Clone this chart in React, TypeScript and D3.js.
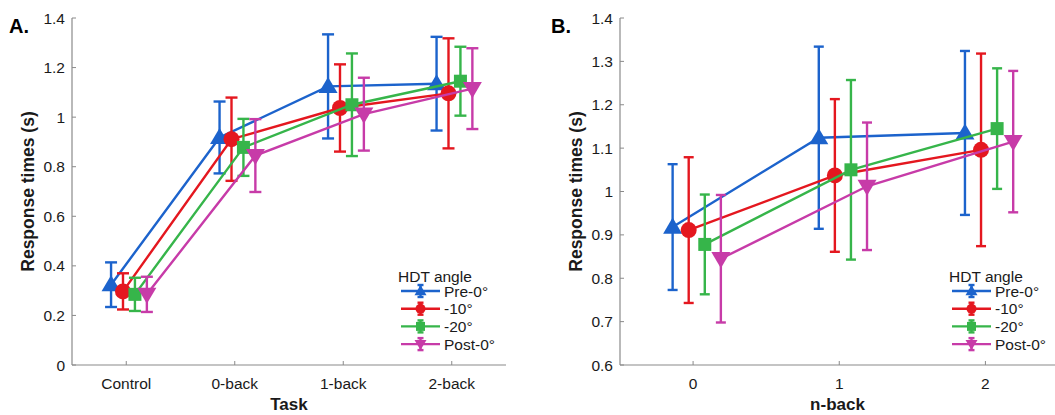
import * as d3 from 'd3';

const seriesNames = ['Pre-0°', '-10°', '-20°', 'Post-0°'];
const seriesColors = ['#1c63cc', '#e4171f', '#36b54a', '#c73ba8'];
const seriesShapes = ['up', 'circle', 'square', 'down'];
const offsets = [-0.14, -0.03, 0.08, 0.19];

const taskLabels = ['Control', '0-back', '1-back', '2-back'];
const nbackLabels = ['0', '1', '2'];

// means per series across Control, 0-back, 1-back, 2-back
const preMean = [0.324, 0.918, 1.124, 1.135];
const m10Mean = [0.297, 0.911, 1.037, 1.096];
const m20Mean = [0.285, 0.878, 1.050, 1.145];
const postMean = [0.285, 0.845, 1.012, 1.115];

const preErr = [0.09, 0.145, 0.21, 0.189];
const m10Err = [0.073, 0.168, 0.176, 0.222];
const m20Err = [0.067, 0.115, 0.207, 0.139];
const postErr = [0.071, 0.147, 0.147, 0.163];

const means = [preMean, m10Mean, m20Mean, postMean];
const errs = [preErr, m10Err, m20Err, postErr];

const ticksA = [0, 0.2, 0.4, 0.6, 0.8, 1, 1.2, 1.4];
const ticksB = [0.6, 0.7, 0.8, 0.9, 1, 1.1, 1.2, 1.3, 1.4];

const font = 'Liberation Sans, Arial, sans-serif';
const axisColor = '#8a8a8a';
const textColor = '#1a1a1a';

function Marker({ shape, x, y, color }: { shape: string; x: number; y: number; color: string }) {
  if (shape === 'circle') return <circle cx={x} cy={y} r={8} fill={color} />;
  if (shape === 'square') return <rect x={x - 6.5} y={y - 6.5} width={13} height={13} fill={color} />;
  const s = 9.5;
  if (shape === 'up')
    return <path d={`M${x},${y - s}L${x + s},${y + s * 0.7}L${x - s},${y + s * 0.7}Z`} fill={color} />;
  return <path d={`M${x},${y + s}L${x + s},${y - s * 0.7}L${x - s},${y - s * 0.7}Z`} fill={color} />;
}

function LegendMarker({ shape, x, y, color }: { shape: string; x: number; y: number; color: string }) {
  if (shape === 'circle') return <circle cx={x} cy={y} r={5} fill={color} />;
  if (shape === 'square') return <rect x={x - 4.5} y={y - 4.5} width={9} height={9} fill={color} />;
  const s = 6;
  if (shape === 'up')
    return <path d={`M${x},${y - s}L${x + s},${y + s * 0.7}L${x - s},${y + s * 0.7}Z`} fill={color} />;
  return <path d={`M${x},${y + s}L${x + s},${y - s * 0.7}L${x - s},${y - s * 0.7}Z`} fill={color} />;
}

type PanelProps = {
  letter: string;
  letterX: number;
  left: number;
  right: number;
  xDomain: [number, number];
  yDomain: [number, number];
  yTicks: number[];
  labels: string[];
  startIdx: number;
  xTitle: string;
  capW: number;
  legendX: number;
};

function Panel(p: PanelProps) {
  const top = 18;
  const bottom = 365;
  const x = d3.scaleLinear().domain(p.xDomain).range([p.left, p.right]);
  const y = d3.scaleLinear().domain(p.yDomain).range([bottom, top]);
  const idx = p.labels.map((_, i) => i);
  const line = d3.line<[number, number]>().x(d => d[0]).y(d => d[1]);
  const plotRight = Math.min(p.right, 1055);
  const lw = 2.4;

  return (
    <g>
      <text x={p.letterX} y={33} fontFamily={font} fontWeight="bold" fontSize={20} fill="#000">{p.letter}</text>
      {/* axes */}
      <line x1={p.left} x2={p.left} y1={top} y2={bottom} stroke={axisColor} strokeWidth={1.2} />
      <line x1={p.left} x2={plotRight} y1={bottom} y2={bottom} stroke={axisColor} strokeWidth={1.2} />
      {p.yTicks.map(t => (
        <g key={t}>
          <line x1={p.left} x2={p.left + 4} y1={y(t)} y2={y(t)} stroke={axisColor} />
          <text x={p.left - 7} y={y(t)} dy="0.36em" textAnchor="end" fontFamily={font} fontSize={15.5} fill={textColor}>
            {d3.format('~g')(t)}
          </text>
        </g>
      ))}
      {idx.map(i => (
        <g key={i}>
          <line x1={x(i)} x2={x(i)} y1={bottom} y2={bottom - 4} stroke={axisColor} />
          <text x={x(i)} y={bottom + 24} textAnchor="middle" fontFamily={font} fontSize={15.5} fill={textColor}>
            {p.labels[i]}
          </text>
        </g>
      ))}
      <text x={(p.left + plotRight) / 2} y={410} textAnchor="middle" fontFamily={font} fontWeight="bold" fontSize={17} fill={textColor}>
        {p.xTitle}
      </text>
      <text
        transform={`translate(${p.left - 44},${(top + bottom) / 2}) rotate(-90)`}
        textAnchor="middle"
        dy="0.35em"
        fontFamily={font}
        fontWeight="bold"
        fontSize={17.5}
        fill={textColor}
      >
        Response times (s)
      </text>
      {/* series */}
      {means.map((m, s) => {
        const col = seriesColors[s];
        const pts: [number, number][] = idx.map(i => [x(i + offsets[s]), y(m[i + p.startIdx])]);
        return (
          <g key={s}>
            <path d={line(pts) || ''} fill="none" stroke={col} strokeWidth={lw} />
            {idx.map(i => {
              const v = m[i + p.startIdx];
              const e = errs[s][i + p.startIdx];
              const cx = x(i + offsets[s]);
              return (
                <g key={i}>
                  <line x1={cx} x2={cx} y1={y(v - e)} y2={y(v + e)} stroke={col} strokeWidth={lw} />
                  <line x1={cx - p.capW / 2} x2={cx + p.capW / 2} y1={y(v + e)} y2={y(v + e)} stroke={col} strokeWidth={lw} />
                  <line x1={cx - p.capW / 2} x2={cx + p.capW / 2} y1={y(v - e)} y2={y(v - e)} stroke={col} strokeWidth={lw} />
                </g>
              );
            })}
            {idx.map(i => (
              <Marker key={i} shape={seriesShapes[s]} x={x(i + offsets[s])} y={y(m[i + p.startIdx])} color={col} />
            ))}
          </g>
        );
      })}
      {/* legend */}
      <text x={p.legendX - 3} y={282} fontFamily={font} fontSize={15.5} fill={textColor}>HDT angle</text>
      {seriesNames.map((n, s) => {
        const ly = 291 + s * 17.7;
        const lx = p.legendX;
        const col = seriesColors[s];
        return (
          <g key={n}>
            <line x1={lx} x2={lx + 39} y1={ly} y2={ly} stroke={col} strokeWidth={lw} />
            <line x1={lx + 19.5} x2={lx + 19.5} y1={ly - 6} y2={ly + 6} stroke={col} strokeWidth={lw} />
            <line x1={lx + 16.5} x2={lx + 22.5} y1={ly - 6} y2={ly - 6} stroke={col} strokeWidth={lw} />
            <line x1={lx + 16.5} x2={lx + 22.5} y1={ly + 6} y2={ly + 6} stroke={col} strokeWidth={lw} />
            <LegendMarker shape={seriesShapes[s]} x={lx + 19.5} y={ly} color={col} />
            <text x={lx + 43} y={ly} dy="0.36em" fontFamily={font} fontSize={15.5} fill={textColor}>{n}</text>
          </g>
        );
      })}
    </g>
  );
}

export default function App() {
  return (
    <svg width={1055} height={415} style={{ position: 'absolute', left: 0, top: 0, background: '#fff' }}>
      <Panel
        letter="A."
        letterX={9}
        left={72}
        right={506}
        xDomain={[-0.5, 3.5]}
        yDomain={[0, 1.4]}
        yTicks={ticksA}
        labels={taskLabels}
        startIdx={0}
        xTitle="Task"
        capW={12}
        legendX={401}
      />
      <Panel
        letter="B."
        letterX={551}
        left={620}
        right={1058.5}
        xDomain={[-0.5, 2.5]}
        yDomain={[0.6, 1.4]}
        yTicks={ticksB}
        labels={nbackLabels}
        startIdx={1}
        xTitle="n-back"
        capW={10}
        legendX={952}
      />
    </svg>
  );
}
